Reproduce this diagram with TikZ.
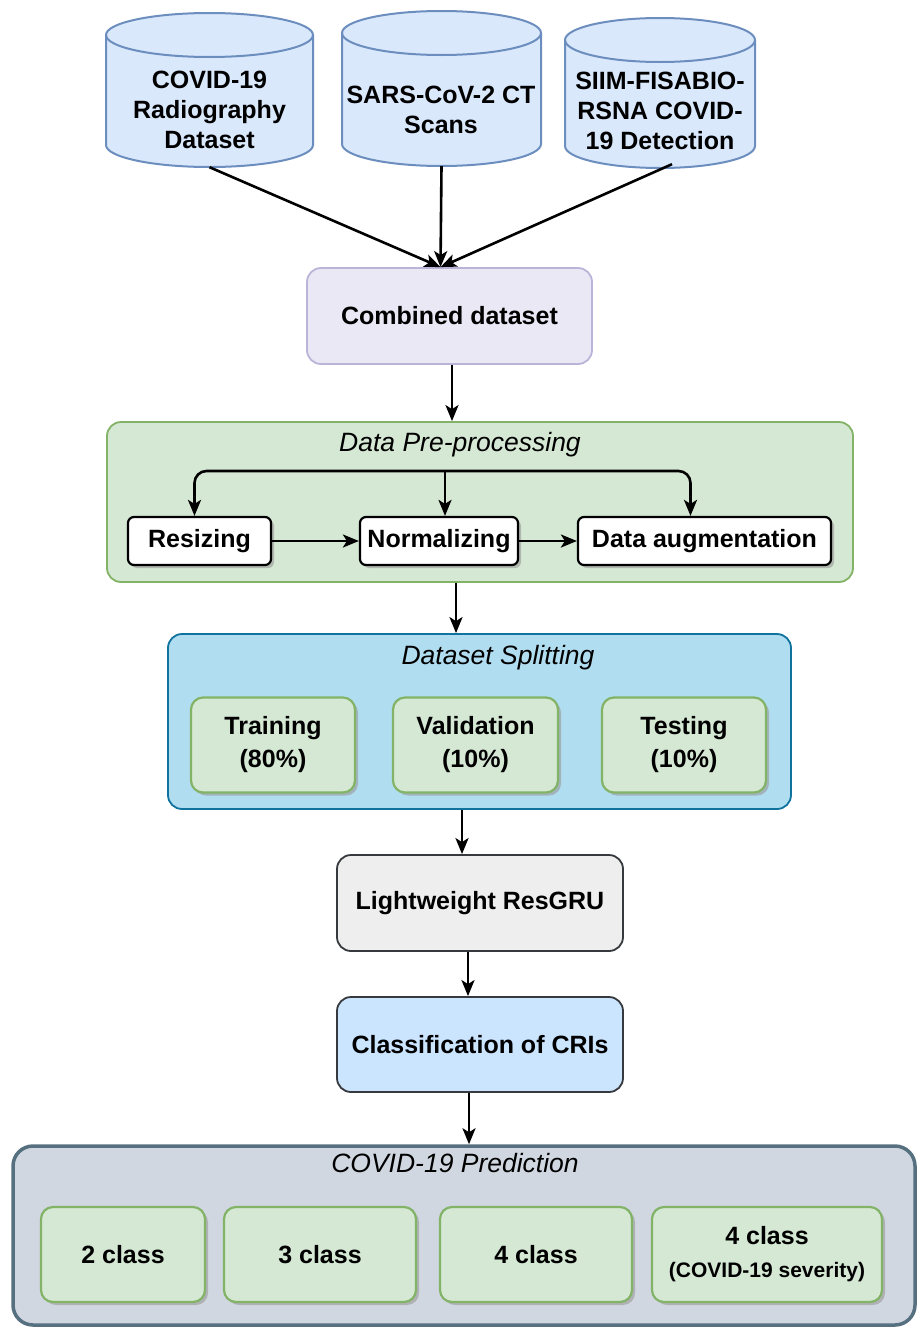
\documentclass[tikz,border=0pt]{standalone}
\usepackage{fontspec}
\setmainfont{Liberation Sans}
\usetikzlibrary{arrows.meta,shadows,calc}
\definecolor{cylf}{HTML}{DAE8FC}
\definecolor{cyld}{HTML}{6C8EBF}
\definecolor{combf}{HTML}{EAE8F4}
\definecolor{combd}{HTML}{B9B5D9}
\definecolor{grnf}{HTML}{D5E8D4}
\definecolor{grnd}{HTML}{82B366}
\definecolor{splf}{HTML}{B1DDF0}
\definecolor{spld}{HTML}{10739E}
\definecolor{gryf}{HTML}{EEEEEE}
\definecolor{gryd}{HTML}{36393D}
\definecolor{clsf}{HTML}{CCE5FF}
\definecolor{predf}{HTML}{D0D7E1}
\definecolor{predd}{HTML}{56707F}
\newcommand\mycyl[4]{%
  \pgfmathsetmacro\myrx{(#2-#1)/2}%
  \filldraw[fill=cylf, draw=cyld, line width=2pt] (#1,{#3+22}) -- (#1,{#4-22})
    arc[start angle=180,end angle=360,x radius=\myrx pt,y radius=22pt] -- (#2,{#3+22})
    arc[start angle=0,end angle=180,x radius=\myrx pt,y radius=22pt] -- cycle;
  \draw[cyld, line width=2pt] (#1,{#3+22})
    arc[start angle=180,end angle=360,x radius=\myrx pt,y radius=22pt];
}
\begin{document}
\begin{tikzpicture}[x=1pt,y=-1pt,
  lbl/.style={font=\fontsize{25}{30}\selectfont\bfseries, align=center, text=black},
  ttl/.style={font=\fontsize{26.5}{30}\selectfont\itshape, text=black},
  body/.style={inner sep=0pt, minimum width=#1},
  bigbox/.style={rounded corners=14pt, line width=1.8pt, inner sep=0pt},
  whitebox/.style={lbl, draw=black, fill=white, rounded corners=6pt, line width=2.2pt, inner sep=0pt, minimum height=48pt,
     drop shadow={shadow xshift=3pt, shadow yshift=-3pt, fill=black!40, opacity=0.6}},
  grnbox/.style={lbl, font=\fontsize{25}{33}\selectfont\bfseries, draw=grnd, fill=grnf, rounded corners=12pt, line width=2.2pt, inner sep=0pt, minimum height=95pt,
     drop shadow={shadow xshift=3pt, shadow yshift=-3pt, fill=black!40, opacity=0.6}},
  arr/.style={-{Stealth[length=16pt,width=13pt,inset=4pt]}, line width=2.6pt, black}
]
\useasboundingbox (0,0) rectangle (919,1328);

% cylinders
\mycyl{106}{313}{13}{167}
\mycyl{342}{541}{11}{166}
\mycyl{565}{755}{18}{168}
\node[body=207pt, minimum height=154pt] (c1) at (209.5,90) {};
\node[body=199pt, minimum height=155pt] (c2) at (441.5,88.5) {};
\node[body=190pt, minimum height=150pt] (c3) at (660,93) {};
\node[lbl] (t1) at (209.5,110) {COVID-19\\Radiography\\Dataset};
\node[lbl] (t2) at (441,110) {SARS-CoV-2 CT\\Scans};
\node[lbl] (t3) at (660,111) {SIIM-FISABIO-\\RSNA COVID-\\19 Detection};

% combined
\node[bigbox, lbl, draw=combd, fill=combf, minimum width=285pt, minimum height=96pt] (comb) at (449.5,316) {Combined dataset};
\coordinate (m) at ([xshift=-9pt]comb.north);
\draw[arr] (c1.south) -- (m);
\draw[arr] (c2.south) -- (m);
\draw[arr] ([xshift=12pt,yshift=4pt]c3.south) -- (m);

% preprocessing
\node[bigbox, draw=grnd, fill=grnf, minimum width=746pt, minimum height=160pt] (pre) at (480,502) {};
\node[ttl] (pret) at (460,445) {Data Pre-processing};
\node[whitebox, minimum width=143pt] (resize) at (199.5,541) {Resizing};
\node[whitebox, minimum width=158pt] (norm) at (439,541) {Normalizing};
\node[whitebox, minimum width=253pt] (aug) at (704.5,541) {Data augmentation};
\draw[arr] (comb.south -| 452,0) -- (pre.north -| 452,0);
\coordinate (br) at (445,471);
\draw[arr] (br) -- ([xshift=6pt]norm.north);
\draw[arr, rounded corners=12pt] (br) -| ([xshift=-5pt]resize.north);
\draw[arr, rounded corners=12pt] (br) -| ([xshift=-14pt]aug.north);
\draw[arr] (resize.east) -- (norm.west);
\draw[arr] (norm.east) -- (aug.west);

% splitting
\node[bigbox, draw=spld, fill=splf, minimum width=623pt, minimum height=175pt] (split) at (479.5,721.5) {};
\node[ttl] (splt) at (498,658) {Dataset Splitting};
\node[grnbox, minimum width=164pt] (train) at (273,745) {Training\\(80\%)};
\node[grnbox, minimum width=165pt] (valid) at (475.5,745) {Validation\\(10\%)};
\node[grnbox, minimum width=164pt] (test) at (684,745) {Testing\\(10\%)};
\draw[arr] (pre.south -| 456,0) -- (split.north -| 456,0);

% model
\node[bigbox, lbl, draw=gryd, fill=gryf, minimum width=286pt, minimum height=96pt] (gru) at (480,903) {Lightweight ResGRU};
\node[bigbox, lbl, draw=gryd, fill=clsf, minimum width=286pt, minimum height=95pt] (cls) at (480,1044.5) {Classification of CRIs};
\draw[arr] (split.south -| 462,0) -- (gru.north -| 462,0);
\draw[arr] (gru.south -| 468,0) -- (cls.north -| 468,0);

% prediction
\node[rounded corners=20pt, line width=3.5pt, draw=predd, fill=predf, inner sep=0pt, minimum width=902pt, minimum height=179pt] (pred) at (464,1235.5) {};
\node[ttl] (predt) at (455,1163) {COVID-19 Prediction};
\draw[arr] (cls.south -| 469,0) -- (pred.north -| 469,0);
\node[grnbox, minimum width=164pt] (p2) at (123,1254.5) {2 class};
\node[grnbox, minimum width=192pt] (p3) at (320,1254.5) {3 class};
\node[grnbox, minimum width=192pt] (p4) at (536,1254.5) {4 class};
\node[grnbox, minimum width=230pt] (p4s) at (767,1254.5) {4 class\\{\fontsize{21}{24}\selectfont (COVID-19 severity)}};
\end{tikzpicture}
\end{document}
